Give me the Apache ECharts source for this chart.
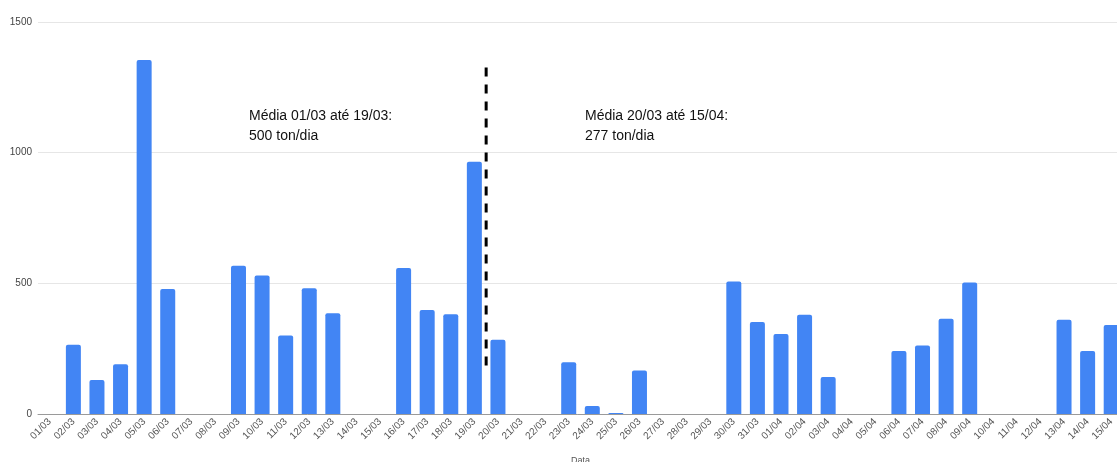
<!DOCTYPE html>
<html>
<head>
<meta charset="utf-8">
<script src="https://cdn.jsdelivr.net/npm/echarts@6/dist/echarts.min.js"></script>
<style>
  html, body { margin: 0; padding: 0; background: #ffffff; }
  #chart { width: 1117px; height: 462px; }
</style>
</head>
<body>
<div id="chart"></div>
<script>
// Daily tonnage, 01/03 to 15/04
const dates = [
  '01/03','02/03','03/03','04/03','05/03','06/03','07/03','08/03','09/03','10/03',
  '11/03','12/03','13/03','14/03','15/03','16/03','17/03','18/03','19/03','20/03',
  '21/03','22/03','23/03','24/03','25/03','26/03','27/03','28/03','29/03','30/03',
  '31/03','01/04','02/04','03/04','04/04','05/04','06/04','07/04','08/04','09/04',
  '10/04','11/04','12/04','13/04','14/04','15/04'
];
const tons = [
  0, 265, 130, 190, 1355, 478, 0, 0, 567, 530,
  300, 481, 386, 0, 0, 559, 398, 382, 965, 284,
  0, 0, 198, 31, 4, 166, 0, 0, 0, 507,
  352, 306, 380, 142, 0, 0, 241, 262, 364, 503,
  0, 0, 0, 361, 241, 341
];
const yTicks = [0, 500, 1000, 1500];

// Period split marker: between 19/03 and 20/03 (band boundary 19 on a 0..46 scale)
const splitX = [19, 19];
const splitY = [1326, 161];

// Period averages
const notes = [
  { text: 'Média 01/03 até 19/03:\n500 ton/dia', x: 249 },
  { text: 'Média 20/03 até 15/04:\n277 ton/dia', x: 585 }
];

const chart = echarts.init(document.getElementById('chart'), null, { renderer: 'canvas' });

chart.setOption({
  animation: false,
  backgroundColor: '#ffffff',
  grid: {
    left: 38, right: -6, top: 22, bottom: 48,
    containLabel: false,
    outerBoundsMode: 'none'
  },
  xAxis: [
    {
      type: 'category',
      data: dates,
      name: 'Data',
      nameLocation: 'middle',
      nameGap: 42,
      nameTextStyle: { fontFamily: 'Liberation Sans', fontSize: 9, color: '#555555' },
      axisLine: { lineStyle: { color: '#9a9a9a', width: 1 } },
      axisTick: { show: false },
      axisLabel: {
        interval: 0,
        rotate: 45,
        margin: 6,
        fontFamily: 'Liberation Sans',
        fontSize: 10,
        color: '#555555'
      }
    },
    {
      type: 'value',
      min: 0,
      max: dates.length,
      show: false
    }
  ],
  yAxis: {
    type: 'value',
    min: yTicks[0],
    max: yTicks[yTicks.length - 1],
    interval: yTicks[1] - yTicks[0],
    axisLine: { show: false },
    axisTick: { show: false },
    splitLine: { lineStyle: { color: '#e6e6e6', width: 1 } },
    axisLabel: {
      margin: 6,
      fontFamily: 'Liberation Sans',
      fontSize: 10,
      color: '#444444',
      formatter: v => String(v)
    }
  },
  series: [
    {
      type: 'bar',
      xAxisIndex: 0,
      data: tons,
      barWidth: 15,
      itemStyle: { color: '#4285f4', borderRadius: [2, 2, 0, 0] }
    },
    {
      type: 'line',
      xAxisIndex: 1,
      data: splitX.map((x, i) => [x, splitY[i]]),
      symbol: 'none',
      silent: true,
      lineStyle: { color: '#000000', width: 3, type: [9, 8] },
      z: 5
    }
  ],
  graphic: notes.map(n => ({
    type: 'text',
    left: n.x,
    top: 106,
    style: {
      text: n.text,
      fontFamily: 'Liberation Sans',
      fontSize: 14,
      lineHeight: 20,
      fill: '#111111'
    }
  }))
});
</script>
</body>
</html>
